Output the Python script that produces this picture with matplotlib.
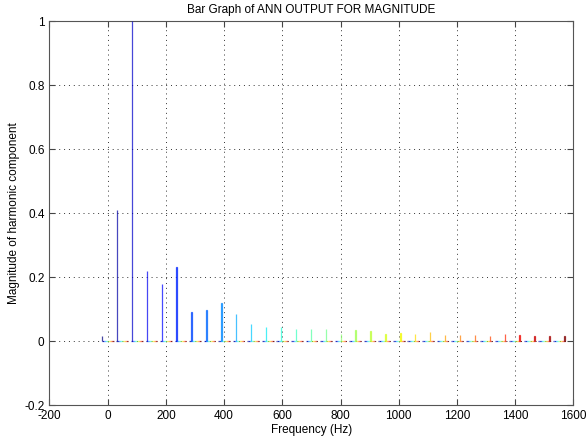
import numpy as np
import matplotlib
matplotlib.use("Agg")
import matplotlib.pyplot as plt

# harmonic frequency bins (Hz) and ANN output magnitudes
freq = np.arange(0, 1600, 50)
magnitude = [0.017, 0.41, 1.0, 0.22, 0.179, 0.231, 0.092, 0.098,
             0.12, 0.086, 0.055, 0.046, 0.045, 0.039, 0.039, 0.04,
             0.023, 0.034, 0.031, 0.023, 0.025, 0.023, 0.028, 0.02,
             0.021, 0.02, 0.017, 0.023, 0.02, 0.017, 0.016, 0.017]

xticks = np.arange(-200, 1601, 200)
yticks = np.round(np.arange(-0.2, 1.01, 0.2), 1)

plt.rcParams['font.family'] = ['Liberation Sans', 'DejaVu Sans']
plt.rcParams['axes.unicode_minus'] = False

fig = plt.figure(figsize=(5.87, 4.37), dpi=100)
ax = fig.add_axes([0.0843, 0.0725, 0.8924, 0.8788])

# MATLAB-style bar(freq, diag(magnitude)): n groups of n thin bars
n = len(magnitude)
cmap = plt.get_cmap('jet', n)
group_w = 0.8 * 50
dw = group_w / n
for j in range(n):
    h = np.zeros(n)
    h[j] = magnitude[j]
    c = cmap(j)
    ax.bar(freq + (j - (n - 1) / 2) * dw, h, width=dw,
           color=c, edgecolor=c, linewidth=0.9, alpha=0.72, zorder=3)

ax.set_xlim(-200, 1600)
ax.set_ylim(-0.2, 1)
ax.set_xticks(xticks)
ax.set_yticks(yticks)
ax.set_yticklabels([f"{v:g}" for v in yticks])
ax.grid(True, linestyle=(0, (1, 4)), color='#333333', linewidth=0.7)
ax.tick_params(direction='in', top=True, right=True, length=4,
               labelsize=8.5, color='#444444')
for s in ax.spines.values():
    s.set_color('#555555')
    s.set_linewidth(0.8)

ax.set_title('Bar Graph of ANN OUTPUT FOR MAGNITUDE', fontsize=8.5, pad=6)
ax.set_xlabel('Frequency (Hz)', fontsize=8.5, labelpad=1)
ax.set_ylabel('Magnitude of harmonic component', fontsize=8.5, labelpad=3)

fig.savefig('out.png', dpi=100)
